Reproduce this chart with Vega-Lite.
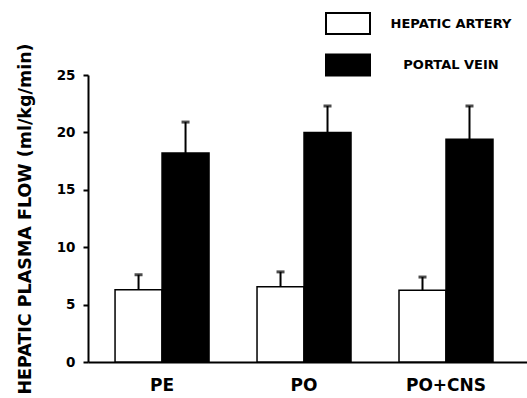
{
  "$schema": "https://vega.github.io/schema/vega-lite/v6.json",
  "autosize": {"type": "none"},
  "width": 439,
  "height": 287,
  "padding": {"left": 88, "top": 75, "right": 0, "bottom": 36},
  "background": "white",
  "config": {
    "view": {"stroke": null},
    "font": "DejaVu Sans"
  },
  "data": {
    "values": [
      {"group": "PE", "vessel": "HEPATIC ARTERY", "flow": 6.3, "upper": 7.6},
      {"group": "PE", "vessel": "PORTAL VEIN", "flow": 18.2, "upper": 20.9},
      {"group": "PO", "vessel": "HEPATIC ARTERY", "flow": 6.55, "upper": 7.85},
      {"group": "PO", "vessel": "PORTAL VEIN", "flow": 20.0, "upper": 22.3},
      {"group": "PO+CNS", "vessel": "HEPATIC ARTERY", "flow": 6.25, "upper": 7.4},
      {"group": "PO+CNS", "vessel": "PORTAL VEIN", "flow": 19.4, "upper": 22.3}
    ]
  },
  "encoding": {
    "x": {
      "field": "group",
      "type": "nominal",
      "sort": ["PE", "PO", "PO+CNS"],
      "scale": {"paddingInner": 0.338, "paddingOuter": 0.215, "align": 0.443},
      "axis": {
        "title": null,
        "labelAngle": 0,
        "ticks": false,
        "domainColor": "black",
        "domainWidth": 2,
        "labelFont": "DejaVu Sans",
        "labelFontWeight": "bold",
        "labelFontSize": 17,
        "labelColor": "black",
        "labelPadding": 15
      }
    },
    "xOffset": {
      "field": "vessel",
      "type": "nominal",
      "sort": ["HEPATIC ARTERY", "PORTAL VEIN"],
      "scale": {"paddingInner": 0, "paddingOuter": 0}
    }
  },
  "layer": [
    {
      "mark": {"type": "bar", "stroke": "black", "strokeWidth": 1.5},
      "encoding": {
        "y": {
          "field": "flow",
          "type": "quantitative",
          "scale": {"domain": [0, 25], "nice": false},
          "axis": {
            "values": [0, 5, 10, 15, 20, 25],
            "grid": false,
            "domainColor": "black",
            "domainWidth": 2,
            "tickColor": "black",
            "tickWidth": 2,
            "tickSize": 5,
            "labelFont": "DejaVu Sans",
            "labelFontWeight": "bold",
            "labelFontSize": 13.5,
            "labelColor": "black",
            "labelPadding": 8,
            "title": "HEPATIC PLASMA FLOW (ml/kg/min)",
            "titleFont": "DejaVu Sans",
            "titleFontWeight": "bold",
            "titleFontSize": 17.5,
            "titleColor": "black",
            "titleAngle": 270,
            "titleAlign": "center",
            "titleBaseline": "middle",
            "titleX": -63,
            "titleY": 143.5
          }
        },
        "fill": {
          "field": "vessel",
          "type": "nominal",
          "scale": {"domain": ["HEPATIC ARTERY", "PORTAL VEIN"], "range": ["white", "black"]},
          "legend": {
            "title": null,
            "orient": "none",
            "legendX": 248,
            "legendY": -63.5,
            "padding": 0,
            "symbolType": "M-2,-0.95H2V0.95H-2Z",
            "symbolSize": 484,
            "symbolStrokeColor": "black",
            "symbolStrokeWidth": 2,
            "rowPadding": 11.5,
            "labelAlign": "center",
            "labelOffset": 91,
            "labelFont": "DejaVu Sans",
            "labelFontWeight": "bold",
            "labelFontSize": 13,
            "labelColor": "black",
            "labelLimit": 300
          }
        }
      }
    },
    {
      "mark": {"type": "rule", "color": "black", "strokeWidth": 2},
      "encoding": {
        "y": {"field": "flow", "type": "quantitative"},
        "y2": {"field": "upper"}
      }
    },
    {
      "mark": {"type": "tick", "color": "black", "size": 8, "thickness": 3, "orient": "horizontal"},
      "encoding": {
        "y": {"field": "upper", "type": "quantitative"}
      }
    }
  ]
}
